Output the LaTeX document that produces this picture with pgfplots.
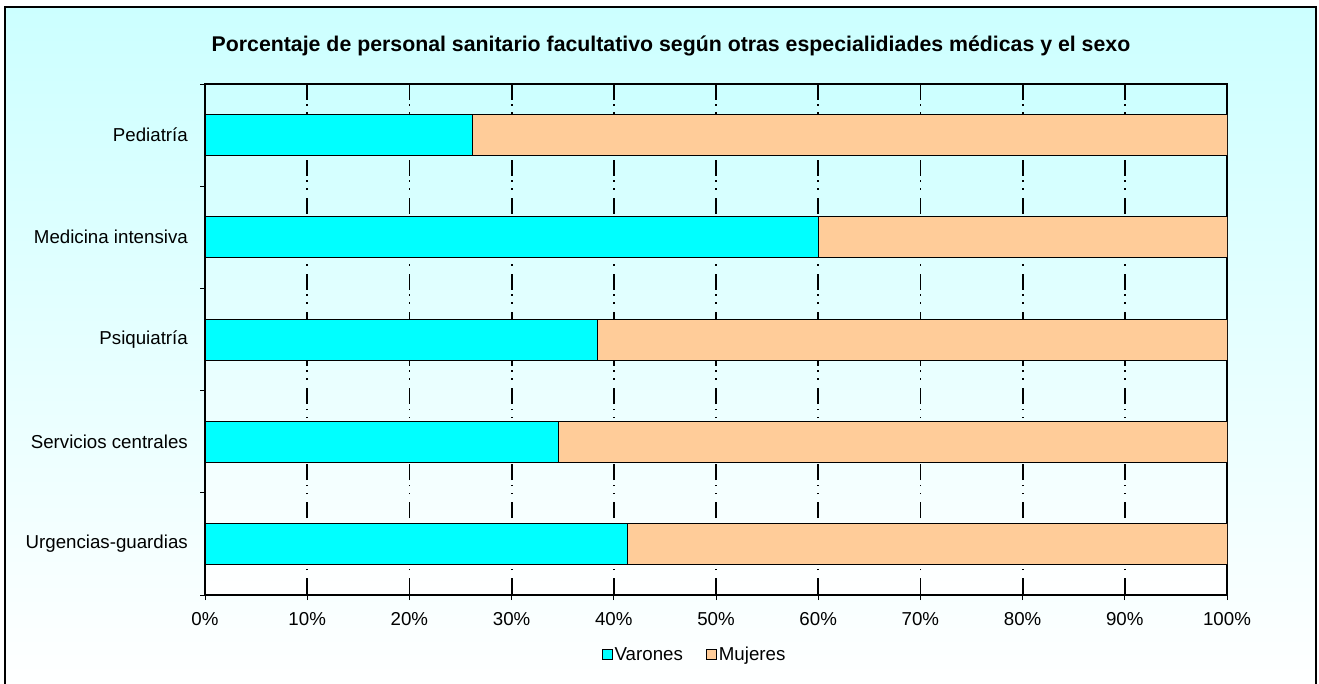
\documentclass[border=0pt]{standalone}
\usepackage{fontspec}
\setmainfont{Liberation Sans}
\usepackage{pgfplots}
\pgfplotsset{compat=1.18}
\definecolor{varon}{RGB}{0,255,255}
\definecolor{mujer}{RGB}{255,204,153}
\definecolor{bgtop}{RGB}{204,255,255}
\begin{document}
\begin{tikzpicture}[x=1pt,y=1pt]
\useasboundingbox (0,0) rectangle (1319,683);
\shade[top color=bgtop, bottom color=white] (5,-5) rectangle (1316,676);
\draw[line width=2pt] (5,-5) rectangle (1316,676);
\node[anchor=base, font=\fontsize{21.3}{25}\selectfont\bfseries] at (671,631) {Porcentaje de personal sanitario facultativo según otras especialidiades médicas y el sexo};
\begin{axis}[
  at={(205pt,88pt)}, anchor=south west,
  scale only axis, width=1022pt, height=511pt,
  xbar stacked, bar width=0.4,
  xmin=0, xmax=100, ymin=-0.5, ymax=4.5,
  axis background/.style={shade, top color=bgtop, bottom color=white},
  axis line style={line width=2pt, black},
  xtick={0,10,...,100},
  xticklabels={0\%,10\%,20\%,30\%,40\%,50\%,60\%,70\%,80\%,90\%,100\%},
  ytick={-0.5,0.5,1.5,2.5,3.5,4.5},
  yticklabels={},
  extra y ticks={0,1,2,3,4},
  extra y tick labels={Urgencias-guardias,Servicios centrales,Psiquiatría,Medicina intensiva,Pediatría},
  extra y tick style={major tick length=0pt},
  tick align=outside,
  xtick pos=bottom, ytick pos=left,
  major tick length=5pt,
  tick style={black, line width=1pt},
  ticklabel style={font=\fontsize{18.7}{22}\selectfont},
  yticklabel style={inner sep=0pt, xshift=-17pt},
  xticklabel style={inner sep=0pt, yshift=-12pt},
  xmajorgrids,
  major grid style={black, line width=1.8pt, dash pattern=on 1.5pt off 6.5pt on 1.5pt off 4.5pt on 16pt off 8pt, dash phase=13pt},
  legend style={at={(0.479,-0.117)}, anchor=center, legend columns=2, draw=none, fill=none,
    font=\fontsize{18.7}{22}\selectfont, nodes={inner sep=1.5pt},
    /tikz/every even column/.append style={column sep=22pt}},
  legend image code/.code={\draw[#1,draw=black,line width=1pt] (0pt,-5pt) rectangle (10pt,5pt);},
]
\addplot[fill=varon, draw=black, line width=0.8pt] coordinates {(41.3,0) (34.6,1) (38.4,2) (60.0,3) (26.2,4)};
\addplot[fill=mujer, draw=black, line width=0.8pt] coordinates {(58.7,0) (65.4,1) (61.6,2) (40.0,3) (73.8,4)};
\legend{Varones,Mujeres}
\end{axis}
\end{tikzpicture}
\end{document}
